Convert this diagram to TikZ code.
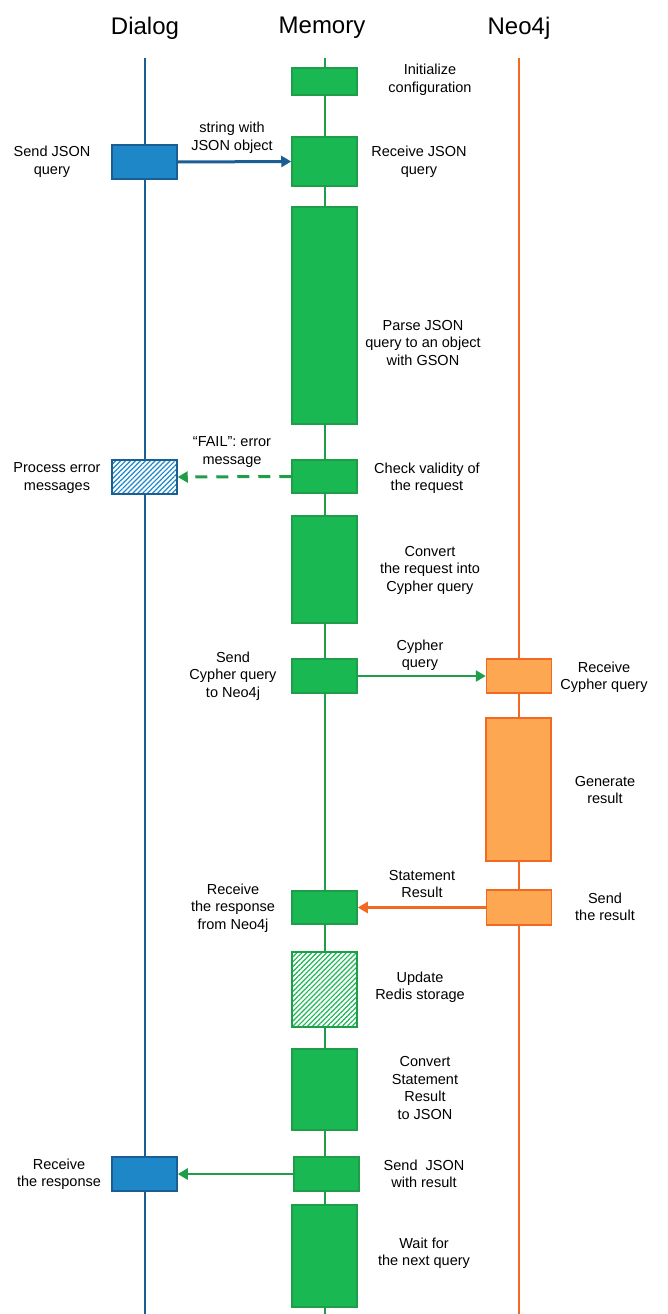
\documentclass[tikz,border=0pt]{standalone}
\usepackage{fontspec}
\setmainfont{Liberation Sans}
\usetikzlibrary{arrows.meta,patterns.meta}
\definecolor{memfill}{HTML}{19B853}
\definecolor{memline}{HTML}{1E9E48}
\definecolor{dlgfill}{HTML}{1E87C8}
\definecolor{dlgline}{HTML}{1B5E94}
\definecolor{neofill}{HTML}{FDA752}
\definecolor{neoline}{HTML}{F26A22}
\tikzset{
  lbl/.style={align=center,font=\fontsize{14.5}{17.5}\selectfont},
  title/.style={font=\fontsize{24}{28}\selectfont},
  actbox/.style={draw,line width=1.5pt,inner sep=0pt,minimum width=65pt},
  membox/.style={actbox,draw=memline,fill=memfill},
  dlgbox/.style={actbox,draw=dlgline,fill=dlgfill},
  neobox/.style={actbox,draw=neoline,fill=neofill},
  hatchbox/.style={actbox,preaction={fill=white},
    pattern={Lines[angle=45,distance=3.5pt,line width=1.2pt]}},
  msg/.style={line width=2.5pt,-{Triangle[length=10pt,width=11pt]}},
}
\begin{document}
\begin{tikzpicture}[x=1pt,y=-1pt]
\useasboundingbox (0,0) rectangle (667,1314);
% actors
\node[title] (dialog) at (145,28) {Dialog};
\node[title] (memory) at (322,28) {Memory};
\node[title] (neo) at (519,28) {Neo4j};
\coordinate (dtop) at (145,58);   \coordinate (dbot) at (145,1314);
\coordinate (mtop) at (325,58);   \coordinate (mbot) at (325,1314);
\coordinate (ntop) at (519,58);   \coordinate (nbot) at (519,1314);
\draw[dlgline,line width=2pt] (dtop) -- (dbot);
\draw[memline,line width=2pt] (mtop) -- (mbot);
\draw[neoline,line width=2pt] (ntop) -- (nbot);

% Memory activations
\node[membox,minimum height=27pt] (init) at (324.5,81.5) {};
\node[membox,minimum height=49pt] (recvjson) at (324.5,161.5) {};
\node[membox,minimum height=217pt] (parse) at (324.5,315.5) {};
\node[membox,minimum height=33pt] (check) at (324.5,476.5) {};
\node[membox,minimum height=107pt] (convert) at (324.5,569.5) {};
\node[membox,minimum height=34pt] (sendcy) at (324.5,676) {};
\node[membox,minimum height=33pt] (recvresp) at (324.5,907.5) {};
\node[hatchbox,draw=memline,pattern color=memfill,minimum height=75pt] (redis) at (324.5,989.5) {};
\node[membox,minimum height=81pt] (convjson) at (324.5,1089.5) {};
\node[membox,minimum height=34pt] (sendres) at (326.5,1174) {};
\node[membox,minimum height=102pt] (wait) at (324.5,1256) {};

% Dialog activations
\node[dlgbox,minimum height=34pt] (sendq) at (144.5,162) {};
\node[hatchbox,draw=dlgline,pattern color=dlgfill,minimum height=34pt] (procerr) at (144.5,477) {};
\node[dlgbox,minimum height=34pt] (recvfinal) at (144.5,1174) {};

% Neo4j activations
\node[neobox,minimum height=34pt] (recvcy) at (519,676) {};
\node[neobox,minimum height=143pt] (gen) at (518.5,789.5) {};
\node[neobox,minimum height=35pt] (sendback) at (519,907.5) {};

% messages
\draw[msg,dlgline,line width=3pt] (sendq.east) -- (recvjson.west);
\draw[msg,memline,line width=3pt,dash pattern=on 12pt off 9pt] (check.west) -- (procerr.east);
\draw[msg,memline] (sendcy.east) -- (recvcy.west);
\draw[msg,neoline,line width=3pt] (sendback.west) -- (recvresp.east);
\draw[msg,memline] (sendres.west) -- (recvfinal.east);

\node[lbl] at (232,138) {string with\\JSON object};
\node[lbl] at (232,452) {``FAIL'': error\\message};
\node[lbl] at (420,655) {Cypher\\query};
\node[lbl] at (422,884) {Statement\\Result};

% labels
\node[lbl] at (52,162) {Send JSON\\query};
\node[lbl] at (57,478) {Process error\\messages};
\node[lbl] at (59,1174) {Receive\\the response};
\node[lbl] at (430,80) {Initialize\\configuration};
\node[lbl] at (419,162) {Receive JSON\\query};
\node[lbl] at (423,343) {Parse JSON\\query to an object\\with GSON};
\node[lbl] at (427,478) {Check validity of\\the request};
\node[lbl] at (430,570) {Convert\\the request into\\Cypher query};
\node[lbl] at (233,676) {Send\\Cypher query\\to Neo4j};
\node[lbl] at (233,908) {Receive\\the response\\from Neo4j};
\node[lbl] at (420,987) {Update\\Redis storage};
\node[lbl] at (425,1088) {Convert\\Statement\\Result\\to JSON};
\node[lbl] at (424,1174) {Send\ \ JSON\\with result};
\node[lbl] at (424,1253) {Wait for\\the next query};
\node[lbl] at (604,677) {Receive\\Cypher query};
\node[lbl] at (605,790) {Generate\\result};
\node[lbl] at (605,907) {Send\\the result};
\end{tikzpicture}
\end{document}
